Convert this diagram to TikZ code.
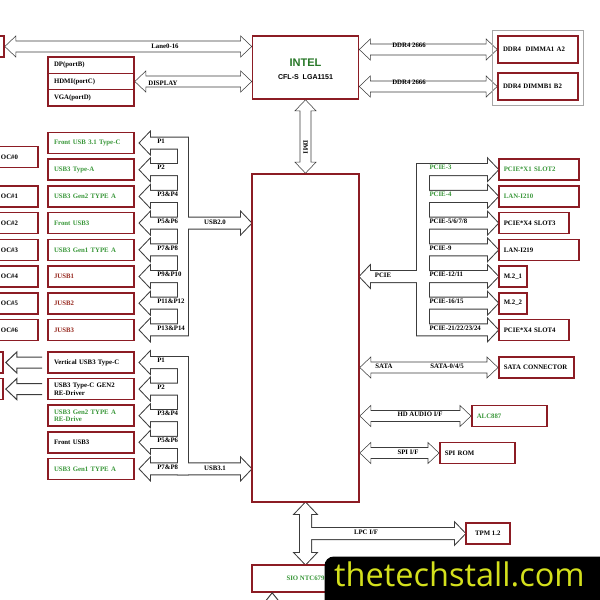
\documentclass[tikz,border=0pt]{standalone}
\usepackage{fontspec}
\setmainfont{Liberation Serif}
\setsansfont{Liberation Sans}
\newfontfamily\wmfont{Open Sans}
\usetikzlibrary{calc,fit,backgrounds}

\definecolor{boxred}{RGB}{140,28,36}
\definecolor{usbgreen}{RGB}{56,150,56}
\definecolor{cpugreen}{RGB}{40,120,40}
\definecolor{jusbred}{RGB}{150,40,30}
\definecolor{arrowline}{RGB}{60,60,60}
\definecolor{wmtext}{RGB}{212,224,28}

\newcommand{\lbl}{\fontsize{5.1}{5.6}\selectfont\bfseries}

% block arrow outlines, sizes in picture units
\newcommand{\hbipath}[2]{(#1) -- ++(11,-10.5) -- ++(0,5) -- ($(#2)+(-11,-5.5)$) -- ++(0,-5) -- (#2) -- ++(-11,10.5) -- ++(0,-5) -- ($(#1)+(11,5.5)$) -- ++(0,5) -- cycle}
\newcommand{\vbipath}[2]{(#1) -- ++(10.5,11) -- ++(-5,0) -- ($(#2)+(5.5,-11)$) -- ++(5,0) -- (#2) -- ++(-10.5,-11) -- ++(5,0) -- ($(#1)+(-5.5,11)$) -- ++(-5,0) -- cycle}

% comb of arrows: style, box prefix, count, main row, chip
\newcommand{\combleft}[5]{%
  \path[#1] ($(#21.east)+(43,-5.5)$) rectangle ($(#2#3.east)+(53,5.5)$);
  \foreach \i in {1,...,#3}
    \path[#1] ($(#2\i.east)+(53,-5.5)$) -- ($(#2\i.east)+(15,-5.5)$) -- ++(0,-5) -- ($(#2\i.east)+(5,0)$) -- ++(10,10.5) -- ++(0,-5) -- ($(#2\i.east)+(53,5.5)$) -- cycle;
  \path[#1] ($(#2#4.east)+(43,-5.5)$) -- ($(#5.west|-#2#4.east)+(-10,-5.5)$) -- ++(0,-5) -- (#5.west|-#2#4.east) -- ++(-10,10.5) -- ++(0,-5) -- ($(#2#4.east)+(43,5.5)$) -- cycle;}
\newcommand{\combright}[5]{%
  \path[#1] ($(#21.west)+(-81,-5.5)$) rectangle ($(#2#3.west)+(-69,5.5)$);
  \foreach \i in {1,...,#3}
    \path[#1] ($(#2\i.west)+(-81,-5.5)$) -- ($(#2\i.west)+(-10,-5.5)$) -- ++(0,-5) -- (#2\i.west) -- ++(-10,10.5) -- ++(0,-5) -- ($(#2\i.west)+(-81,5.5)$) -- cycle;
  \path[#1] ($(#2#4.west)+(-69,-5.5)$) -- ($(#5.east|-#2#4.west)+(10,-5.5)$) -- ++(0,-5) -- (#5.east|-#2#4.west) -- ++(10,10.5) -- ++(0,-5) -- ($(#2#4.west)+(-69,5.5)$) -- cycle;}
\newcommand{\lpcshape}[1]{%
  \path[#1] \vbipath{pch.south}{sio.north};
  \path[#1] ($(pch.south |- tpm.west)+(0,-5.5)$) -- ($(tpm.west)+(-10,-5.5)$) -- ++(0,-5) -- (tpm.west) -- ++(-10,10.5) -- ++(0,-5) -- ($(pch.south |- tpm.west)+(0,5.5)$) -- cycle;}

\tikzset{every picture/.style={line width=0.75pt}}

\begin{document}
\begin{tikzpicture}[x=0.75pt,y=0.75pt,yscale=-1,xscale=1,
  box/.style={draw=boxred,line width=1.2pt,minimum height=15.75pt,inner xsep=3.75pt,inner ysep=0pt,font=\lbl},
  lbox/.style={box,text width=#1,align=left},
  lab/.style={font=\lbl,inner sep=0pt},
  barrow/.style={draw=arrowline,fill=white},
  outl/.style={draw=arrowline,line width=1.5pt},
  blank/.style={fill=white}]
\useasboundingbox (0,0) rectangle (600,600);

% CPU, memory, display
\node[box,minimum width=79.5pt,minimum height=47.25pt] (intel) at (305.5,67.5) {};
\node[font=\sffamily\bfseries\fontsize{8.3}{10}\selectfont,text=cpugreen] (intelname) at ($(intel)+(0,-4.5)$) {INTEL};
\node[font=\sffamily\bfseries\fontsize{5.3}{6}\selectfont] (intelpkg) at ($(intel)+(0,9.5)$) {CFL-S\ \ LGA1151};
\node[box,minimum width=21pt] (peg) at (-10,46.5) {};
\node[lbox=52.5pt,minimum height=20.25pt] (dimma) at (538,49.5) {DDR4\ \ DIMMA1 A2};
\node[lbox=52.5pt,minimum height=20.25pt] (dimmb) at (538,86.5) {DDR4 DIMMB1 B2};
\node[draw=gray!70,line width=0.9pt,fit=(dimma)(dimmb),inner sep=3.6pt] (dimm) {};
\node[lbox=55.5pt,inner xsep=4.5pt,minimum height=12.25pt] (dp) at (91,65.2) {DP(portB)};
\node[lbox=55.5pt,inner xsep=4.5pt,minimum height=12.25pt] (hdmi) at (91,81.5) {HDMI(portC)};
\node[lbox=55.5pt,inner xsep=4.5pt,minimum height=12.25pt] (vga) at (91,97.8) {VGA(portD)};

% PCH
\node[box,minimum width=80.25pt,minimum height=246pt] (pch) at (305.5,338) {};

% USB2.0 ports
\foreach \i/\txt/\clr in {1/Front USB 3.1 Type-C/usbgreen, 2/USB3 Type-A/usbgreen, 3/USB3 Gen2 TYPE A/usbgreen, 4/Front USB3/usbgreen, 5/USB3 Gen1 TYPE A/usbgreen, 6/JUSB1/jusbred, 7/JUSB2/jusbred, 8/JUSB3/jusbred}
  \node[lbox=55.5pt,inner xsep=4.5pt,text=\clr] (u\i) at (91,{143+26.7*(\i-1)}) {\txt};
\node[lbox=24pt] (oc0) at (17,157) {OC\#0};
\foreach \i in {1,...,6}
  \node[lbox=24pt] (oc\i) at (17,{143+26.7*(\i+1)}) {OC\#\i};

% USB3.1 ports
\foreach \i/\txt/\clr in {1/Vertical USB3 Type-C/black, 2/{USB3 Type-C GEN2\\RE-Driver}/black, 3/{USB3 Gen2 TYPE A\\RE-Drive}/usbgreen, 4/Front USB3/black, 5/USB3 Gen1 TYPE A/usbgreen}
  \node[lbox=55.5pt,inner xsep=4.5pt,text=\clr] (v\i) at (91,{362.5+26.6*(\i-1)}) {\txt};
\node[box,minimum width=21pt] (w1) at (-11,362.5) {};
\node[box,minimum width=21pt] (w2) at (-11,389.1) {};

% PCIE devices
\node[lbox=52.5pt,anchor=west,text=usbgreen] (p1) at (498,169.7) {PCIE*X1 SLOT2};
\node[lbox=52.5pt,anchor=west,text=usbgreen] (p2) at (498,196.4) {LAN-I210};
\node[lbox=45pt,anchor=west] (p3) at (498,223.1) {PCIE*X4 SLOT3};
\node[lbox=52.5pt,anchor=west] (p4) at (498,249.8) {LAN-I219};
\node[box,minimum width=20.25pt,anchor=west] (p5) at (498,276.5) {M.2\_1};
\node[box,minimum width=20.25pt,anchor=west] (p6) at (498,303.2) {M.2\_2};
\node[lbox=45pt,anchor=west] (p7) at (498,329.9) {PCIE*X4 SLOT4};

% other PCH links
\node[lbox=48.75pt,anchor=west] (sata) at (498,367.5) {SATA CONNECTOR};
\node[lbox=48.75pt,anchor=west,text=usbgreen] (alc) at (471,416) {ALC887};
\node[lbox=48.75pt,anchor=west] (spi) at (439,453) {SPI ROM};
\node[box,minimum width=33pt,anchor=west] (tpm) at (465,533.5) {TPM 1.2};
\node[box,minimum width=80.25pt,minimum height=20.25pt,text=usbgreen] (sio) at (305.5,578.5) {SIO NTC679};
\coordinate (sioin) at ($(sio.south west)+(21,0)$);

\begin{scope}[on background layer]
\draw[barrow] \hbipath{peg.east}{intel.west |- peg.east};
\draw[barrow] \hbipath{intel.east |- dimma.west}{dimma.west};
\draw[barrow] \hbipath{intel.east |- dimmb.west}{dimmb.west};
\draw[barrow] \hbipath{hdmi.east}{intel.west |- hdmi.east};
\draw[barrow] \vbipath{intel.south}{pch.north};
\draw[barrow] \hbipath{pch.east |- sata.west}{sata.west};
\draw[barrow] \hbipath{pch.east |- alc.west}{alc.west};
\draw[barrow] \hbipath{pch.east |- spi.west}{spi.west};
% combs: outline pass, then white pass
\combleft{outl}{u}{8}{4}{pch}
\combleft{outl}{v}{5}{5}{pch}
\combright{outl}{p}{7}{5}{pch}
\lpcshape{outl}
\combleft{blank}{u}{8}{4}{pch}
\combleft{blank}{v}{5}{5}{pch}
\combright{blank}{p}{7}{5}{pch}
\lpcshape{blank}
\end{scope}

% arrows out of the type-c boxes
\foreach \i in {1,2}
  \draw[arrowline] ($(v\i.west)+(-5,-5.5)$) -- ($(w\i.east)+(13,-5.5)$) -- ++(0,-5) -- ($(w\i.east)+(2,0)$) -- ++(11,10.5) -- ++(0,-5) -- ($(v\i.west)+(-5,5.5)$);
\draw[arrowline] ($(sioin)+(-8,10)$) -- (sioin) -- ($(sioin)+(8,10)$);

% bus labels
\node[lab] (lanelbl) at (165,46) {Lane0-16};
\node[lab] (displbl) at (163,83) {DISPLAY};
\node[lab] (ddralbl) at (409,45) {DDR4 2666};
\node[lab] (ddrblbl) at (409,82) {DDR4 2666};
\node[lab,rotate=-90] (dmilbl) at (305.5,147) {DMI};
\node[lab] (usb2lbl) at (215,222) {USB2.0};
\node[lab] (usb3lbl) at (215,468) {USB3.1};
\node[lab] (pcielbl) at (383,275) {PCIE};
\node[lab] (satalbl) at (384,366) {SATA};
\node[lab] (satanum) at (447,366) {SATA-0/4/5};
\node[lab] (hdalbl) at (420,414) {HD AUDIO I/F};
\node[lab] (spilbl) at (408,452) {SPI I/F};
\node[lab] (lpclbl) at (366,532) {LPC I/F};
\foreach \i/\txt in {1/P1,2/P2,3/P3\&P4,4/P5\&P6,5/P7\&P8,6/P9\&P10,7/P11\&P12,8/P13\&P14}
  \node[lab,anchor=west] (up\i) at ($(u\i.east)+(22,-2)$) {\txt};
\foreach \i/\txt in {1/P1,2/P2,3/P3\&P4,4/P5\&P6,5/P7\&P8}
  \node[lab,anchor=west] (vp\i) at ($(v\i.east)+(22,-2)$) {\txt};
\foreach \i/\txt/\clr in {1/PCIE-3/usbgreen,2/PCIE-4/usbgreen,3/{PCIE-5/6/7/8}/black,4/PCIE-9/black,5/{PCIE-12/11}/black,6/{PCIE-16/15}/black,7/{PCIE-21/22/23/24}/black}
  \node[lab,anchor=west,text=\clr] (pl\i) at ($(p\i.west)+(-69,-2)$) {\txt};

% watermark
\node[fill=black,rounded corners=7pt,anchor=north west,minimum width=230pt,minimum height=60pt] (wmbox) at (324,556) {};
\node[font=\wmfont\fontsize{24.4}{28}\selectfont,text=wmtext,anchor=base,inner sep=0pt] (wm) at (459.5,586) {thetechstall.com};

\end{tikzpicture}
\end{document}
